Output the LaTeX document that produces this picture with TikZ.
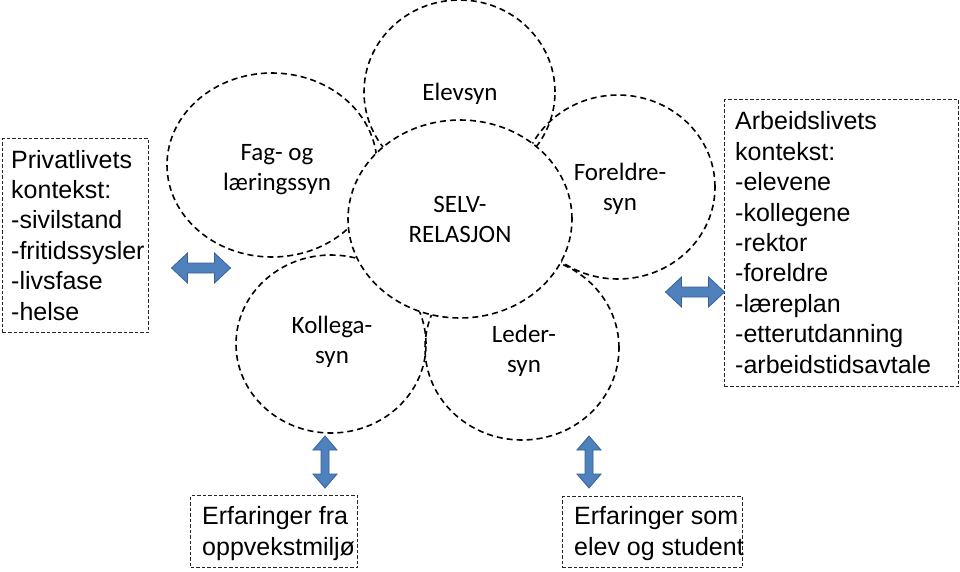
\documentclass[tikz,border=0pt]{standalone}
\usepackage{fontspec}
\setmainfont{Liberation Sans}
\newfontfamily\calib{Carlito}
\usetikzlibrary{shapes.geometric}
\definecolor{arrowblue}{HTML}{4F81BD}
\definecolor{arrowedge}{HTML}{35609A}
\newcommand\hdarrow[2]{%
  \draw[bigarrow] ({#1-29.5},#2) -- ({#1-13.5},{#2-15}) -- ({#1-13.5},{#2-5}) -- ({#1+13.5},{#2-5}) -- ({#1+13.5},{#2-15}) -- ({#1+29.5},#2) -- ({#1+13.5},{#2+15}) -- ({#1+13.5},{#2+5}) -- ({#1-13.5},{#2+5}) -- ({#1-13.5},{#2+15}) -- cycle;}
\newcommand\vdarrow[2]{%
  \draw[bigarrow] (#1,{#2-26}) -- ({#1+12},{#2-12}) -- ({#1+4},{#2-12}) -- ({#1+4},{#2+12}) -- ({#1+12},{#2+12}) -- (#1,{#2+26}) -- ({#1-12},{#2+12}) -- ({#1-4},{#2+12}) -- ({#1-4},{#2-12}) -- ({#1-12},{#2-12}) -- cycle;}
\begin{document}
\begin{tikzpicture}[x=1pt,y=-1pt,
  bubble/.style={ellipse, draw=black, line width=1.6pt, dash pattern=on 6pt off 4pt, inner sep=0pt},
  bubbletext/.style={font=\calib\fontsize{25}{30}\selectfont, align=center, inner sep=0pt, anchor=base},
  ctxbox/.style={draw=black!85, line width=1pt, dash pattern=on 3.5pt off 2pt, inner sep=0pt, anchor=north west},
  boxtext/.style={font=\fontsize{25}{30.4}\selectfont, align=left, inner sep=0pt, anchor=base west},
  bigarrow/.style={fill=arrowblue, draw=arrowedge, line width=0.8pt, line join=miter}]
\useasboundingbox (0,0) rectangle (960,571);
% outer bubbles
\node[bubble, minimum width=191pt, minimum height=184pt] (elev) at (459.5,92) {};
\node[bubble, minimum width=210pt, minimum height=184pt] (fag) at (272,165) {};
\node[bubble, minimum width=194pt, minimum height=184pt] (foreldre) at (618,187) {};
\node[bubble, minimum width=190pt, minimum height=178pt] (kollega) at (331,344) {};
\node[bubble, minimum width=194pt, minimum height=184pt] (leder) at (522,348) {};
% centre
\node[bubble, fill=white, minimum width=224pt, minimum height=198pt] (selv) at (460,219) {};
% bubble texts (base = baseline of the last line)
\node[bubbletext] (elevt) at (460,100) {Elevsyn};
\node[bubbletext] (fagt) at (277,190) {Fag- og\\læringssyn};
\node[bubbletext] (foreldret) at (620,210) {Foreldre-\\syn};
\node[bubbletext] (selvt) at (460,242) {SELV-\\RELASJON};
\node[bubbletext] (kollegat) at (332,363) {Kollega-\\syn};
\node[bubbletext] (ledert) at (524,372) {Leder-\\syn};
% context boxes
\node[ctxbox, minimum width=146pt, minimum height=194pt] (priv) at (2,138) {};
\node[boxtext] (privt) at (11,320) {Privatlivets\\kontekst:\\-sivilstand\\-fritidssysler\\-livsfase\\-helse};
\node[ctxbox, minimum width=234pt, minimum height=287pt] (arb) at (724,99) {};
\node[boxtext] (arbt) at (735,373) {Arbeidslivets\\kontekst:\\-elevene\\-kollegene\\-rektor\\-foreldre\\-læreplan\\-etterutdanning\\-arbeidstidsavtale};
\node[ctxbox, minimum width=167pt, minimum height=72pt] (oppv) at (190,495) {};
\node[boxtext] (oppvt) at (202,555) {Erfaringer fra\\oppvekstmiljø};
\node[ctxbox, minimum width=180pt, minimum height=71pt] (elevstud) at (562,496) {};
\node[boxtext] (elevstudt) at (574,555) {Erfaringer som\\elev og student};
% block arrows
\hdarrow{201}{268}
\hdarrow{695}{292}
\vdarrow{325}{462}
\vdarrow{589}{462}
\end{tikzpicture}
\end{document}
